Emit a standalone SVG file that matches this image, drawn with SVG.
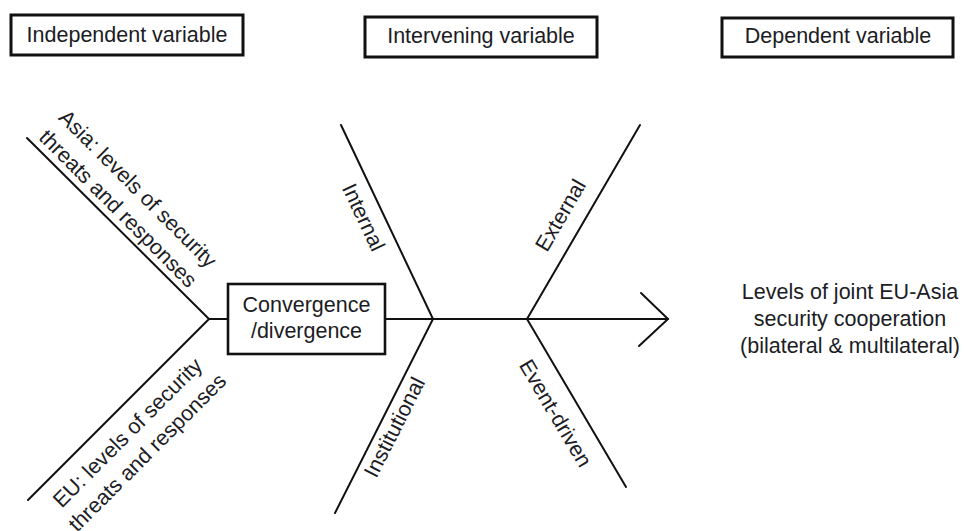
<svg xmlns="http://www.w3.org/2000/svg" width="964" height="531" viewBox="0 0 964 531">
<style>
  text { font-family: "Liberation Sans", Arial, sans-serif; font-size: 21.5px; fill: #1c1c24; text-anchor: middle; }
  .hbox { fill: #fff; stroke: #111; stroke-width: 3; }
  .cbox { fill: #fff; stroke: #111; stroke-width: 2.6; }
  .ln { fill: none; stroke: #111; stroke-width: 2; stroke-linecap: round; stroke-linejoin: miter; }
</style>
<rect width="964" height="531" fill="#fff"/>

<g id="connectors">
  <path class="ln" d="M27,138 L209,319 L28,500"/>
  <path class="ln" d="M209,319 L668,319"/>
  <path class="ln" d="M641,293 L668,319 L639,346"/>
  <path class="ln" d="M341,125 L433,319 L335,513"/>
  <path class="ln" d="M640,125 L527,319 L626,487"/>
</g>

<g id="independent-variable">
  <rect class="hbox" x="11" y="15" width="232" height="40"/>
  <text x="127" y="42">Independent variable</text>
</g>
<g id="intervening-variable">
  <rect class="hbox" x="365" y="17" width="232" height="40"/>
  <text x="481" y="43">Intervening variable</text>
</g>
<g id="dependent-variable">
  <rect class="hbox" x="722" y="18" width="231" height="39"/>
  <text x="838" y="43">Dependent variable</text>
</g>

<g id="asia-threats">
  <g transform="translate(108,218.6) rotate(45)">
    <text x="0" y="-35">Asia: levels of security</text>
    <text x="0" y="-7">threats and responses</text>
  </g>
</g>
<g id="eu-threats">
  <g transform="translate(111.4,416.6) rotate(-45)">
    <text x="0" y="30">EU: levels of security</text>
    <text x="0" y="58">threats and responses</text>
  </g>
</g>

<g id="convergence">
  <rect class="cbox" x="228" y="284" width="157" height="70"/>
  <text x="306.5" y="311.5">Convergence</text>
  <text x="306.5" y="338">/divergence</text>
</g>

<g id="internal">
  <text transform="translate(380.9,209) rotate(64.6)" x="0" y="26.5">Internal</text>
</g>
<g id="institutional">
  <text transform="translate(381.8,420.7) rotate(-63.1)" x="0" y="21.5">Institutional</text>
</g>
<g id="external">
  <text transform="translate(580.4,226.8) rotate(-59.65)" x="0" y="-15.7">External</text>
</g>
<g id="event-driven">
  <text transform="translate(575.3,401.5) rotate(59.35)" x="0" y="30.3">Event-driven</text>
</g>

<g id="outcome">
  <text x="850" y="299">Levels of joint EU-Asia</text>
  <text x="850" y="326">security cooperation</text>
  <text x="850" y="353">(bilateral &amp; multilateral)</text>
</g>
</svg>
